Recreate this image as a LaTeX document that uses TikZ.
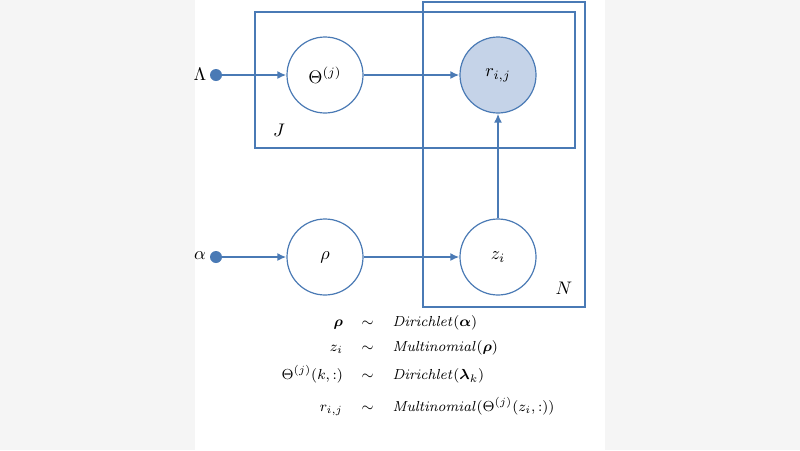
\documentclass[tikz,border=0pt]{standalone}
\usepackage{amsmath,bm}
\usetikzlibrary{arrows.meta}
\definecolor{pb}{HTML}{4A7AB5}
\definecolor{fillb}{HTML}{C5D3E8}
\begin{document}
\begin{tikzpicture}[x=0.55pt,y=-0.55pt,
  var/.style={circle,draw=pb,line width=0.66pt,minimum size=41.8pt,inner sep=0pt},
  plate/.style={draw=pb,line width=0.72pt},
  arr/.style={draw=pb,line width=1pt,-{Latex[length=5pt,width=4.4pt]}},
  dot/.style={circle,fill=pb,minimum size=6.6pt,inner sep=0pt}]
\useasboundingbox (0,0) rectangle (800,450);
\fill[gray!8] (0,0) rectangle (800,450);
\fill[white] (195,0) rectangle (605,450);
\draw[plate] (255,12) rectangle (575,148);
\draw[plate] (423,2) rectangle (585,307);
\node (J) at (279,130) {$J$};
\node (N) at (564,288) {$N$};
\node[var] (th) at (325,75) {$\Theta^{(j)}$};
\node[var,fill=fillb] (r) at (498,75) {$r_{i,j}$};
\node[var] (rho) at (325,257) {$\rho$};
\node[var] (z) at (498,257) {$z_i$};
\node[dot] (L) at (216,75) {};
\node[dot] (a) at (216,257) {};
\node (Ll) at (200,74) {$\Lambda$};
\node (al) at (200,256) {$\alpha$};
\draw[arr] (L) -- (th);
\draw[arr] (th.east) -- (r.west);
\draw[arr] (a) -- (rho);
\draw[arr] (rho) -- (z);
\draw[arr] (z) -- (r);
\node[anchor=north,inner sep=0pt,font=\footnotesize] (eq) at (418,314) {$\begin{aligned}
\bm{\rho} &\quad\sim\quad \mathit{Dirichlet}(\bm{\alpha})\\[1pt]
z_i &\quad\sim\quad \mathit{Multinomial}(\bm{\rho})\\[1pt]
\Theta^{(j)}(k,:) &\quad\sim\quad \mathit{Dirichlet}(\bm{\lambda}_k)\\[3pt]
r_{i,j} &\quad\sim\quad \mathit{Multinomial}(\Theta^{(j)}(z_i,:))
\end{aligned}$};
\end{tikzpicture}
\end{document}
